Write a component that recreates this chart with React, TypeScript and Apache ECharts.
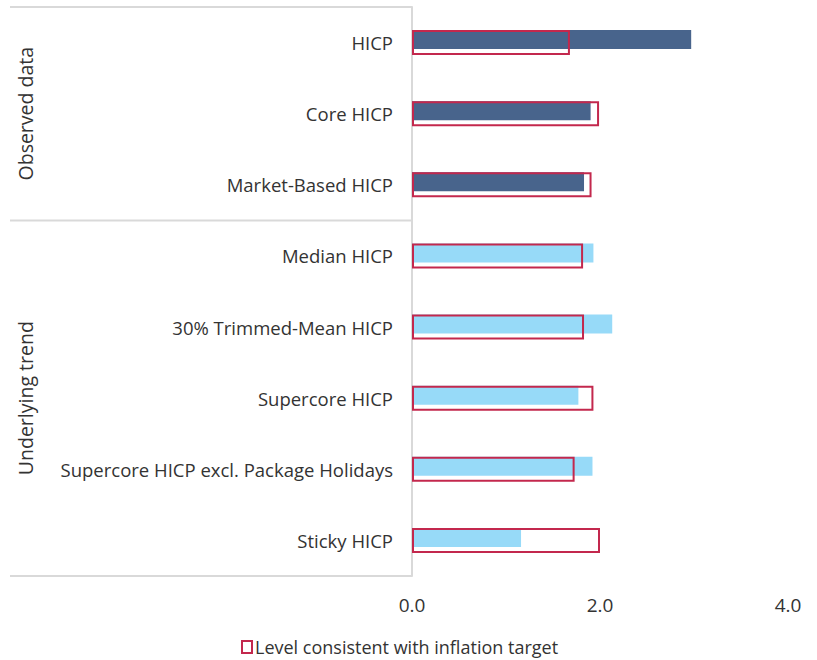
import React, { useEffect, useRef } from "react";
import * as echarts from "echarts";

const categories = [
  "HICP",
  "Core HICP",
  "Market-Based HICP",
  "Median HICP",
  "30% Trimmed-Mean HICP",
  "Supercore HICP",
  "Supercore HICP excl. Package Holidays",
  "Sticky HICP",
];
const actualValues = [2.97, 1.9, 1.83, 1.93, 2.13, 1.77, 1.92, 1.16];
const targetValues = [1.68, 1.99, 1.91, 1.82, 1.83, 1.93, 1.73, 2.0];
const groupNames = ["Observed data", "Underlying trend"];
const groupSizes = [3, 5];
const xTicks = [0, 2, 4];

const DARK = "#48648C";
const LIGHT = "#97DAF8";
const CRIMSON = "#C3284D";
const GRID_LINE = "#D9D9D9";
const TEXT = "#333333";
const FONT = "'Open Sans', sans-serif";

export default function App() {
  const ref = useRef<HTMLDivElement>(null);
  useEffect(() => {
    if (!ref.current) return;
    const chart = echarts.init(ref.current, undefined, { renderer: "svg" });
    const H = 660;
    const gridLeft = 412;
    const gridRight = 29;
    const gridTop = 7;
    const gridBottom = 84;
    const plotH = H - gridTop - gridBottom;
    const band = plotH / categories.length;
    const frameLeft = 10;

    const graphics: any[] = [];
    graphics.push({
      type: "line",
      shape: { x1: frameLeft, y1: gridTop, x2: gridLeft, y2: gridTop },
      style: { stroke: GRID_LINE, lineWidth: 2 },
    });
    let acc = 0;
    groupSizes.forEach((n, i) => {
      const y0 = gridTop + acc * band;
      const y1 = gridTop + (acc + n) * band;
      graphics.push({
        type: "line",
        shape: { x1: frameLeft, y1: y1, x2: gridLeft, y2: y1 },
        style: { stroke: GRID_LINE, lineWidth: 2 },
      });
      graphics.push({
        type: "text",
        x: 25,
        y: (y0 + y1) / 2,
        rotation: Math.PI / 2,
        style: {
          text: groupNames[i],
          fill: TEXT,
          font: `19.5px ${FONT}`,
          align: "center",
          verticalAlign: "middle",
        },
      });
      acc += n;
    });

    chart.setOption({
      animation: false,
      textStyle: { fontFamily: FONT },
      grid: { left: gridLeft, right: gridRight, top: gridTop, bottom: gridBottom, containLabel: false },
      xAxis: {
        type: "value",
        min: xTicks[0],
        max: xTicks[xTicks.length - 1],
        interval: xTicks[1] - xTicks[0],
        axisLine: { show: false },
        axisTick: { show: false },
        splitLine: { show: false },
        axisLabel: {
          color: TEXT,
          fontSize: 19,
          fontFamily: FONT,
          margin: 19,
          formatter: (v: number) => v.toFixed(1),
        },
      },
      yAxis: {
        type: "category",
        data: categories,
        inverse: true,
        axisLine: { show: true, lineStyle: { color: GRID_LINE, width: 2 } },
        axisTick: { show: false },
        axisLabel: { color: TEXT, fontSize: 18.5, fontFamily: FONT, margin: 19 },
      },
      legend: {
        data: ["Level consistent with inflation target"],
        left: 236,
        top: 633,
        icon: "rect",
        itemWidth: 10,
        itemHeight: 12,
        itemGap: 10,
        textStyle: { color: TEXT, fontSize: 18, fontFamily: FONT, padding: [0, 0, 0, -2] },
        itemStyle: { color: "#ffffff", borderColor: CRIMSON, borderWidth: 2 },
      },
      series: [
        {
          name: "Observed",
          type: "bar",
          barWidth: 19,
          barGap: "-100%",
          data: actualValues.map((v, i) => ({
            value: v,
            itemStyle: { color: i < groupSizes[0] ? DARK : LIGHT },
          })),
        },
        {
          name: "Level consistent with inflation target",
          type: "bar",
          barWidth: 25,
          barGap: "-100%",
          z: 3,
          itemStyle: { color: "rgba(0,0,0,0)", borderColor: CRIMSON, borderWidth: 2 },
          data: targetValues,
        },
      ],
      graphic: graphics,
    });
    return () => chart.dispose();
  }, []);
  return (
    <div
      ref={ref}
      style={{ position: "fixed", left: 0, top: 0, width: 817, height: 660, background: "#fff" }}
    />
  );
}
